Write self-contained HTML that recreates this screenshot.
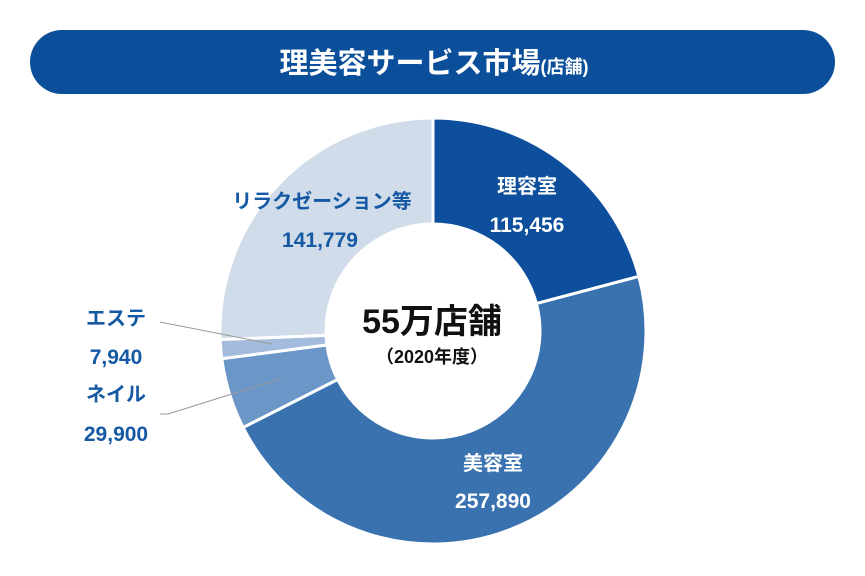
<!DOCTYPE html>
<html><head><meta charset="utf-8"><style>
body{margin:0;background:#fff;width:865px;height:571px;overflow:hidden;font-family:"Liberation Sans","Noto Sans CJK JP",sans-serif}
</style></head><body>
<svg width="865" height="571" viewBox="0 0 865 571" xmlns="http://www.w3.org/2000/svg">
<rect x="30" y="30" width="805" height="64" rx="32" fill="#0b4f9a"/>
<text x="434" y="73" text-anchor="middle" fill="#fff" font-family="Liberation Sans, Noto Sans CJK JP, sans-serif" font-weight="bold" font-size="29">理美容サービス市場<tspan font-size="18">(店舗)</tspan></text>
<g id="pie"></g>
<polyline points="160,322 272,344" fill="none" stroke="#999" stroke-width="1"/>
<polyline points="160,414 168,414 280,379" fill="none" stroke="#999" stroke-width="1"/>
<g font-family="Liberation Sans, Noto Sans CJK JP, sans-serif" font-weight="bold" font-size="20" text-anchor="middle">
<text x="527" y="193" fill="#fff">理容室</text>
<text x="527" y="232" font-size="21" fill="#fff">115,456</text>
<text x="493" y="470" fill="#fff">美容室</text>
<text x="493" y="508" font-size="21" fill="#fff">257,890</text>
<text x="322" y="208" fill="#1558a3">リラクゼーション等</text>
<text x="320" y="247" font-size="21" fill="#1558a3">141,779</text>
<text x="116" y="325" fill="#1558a3">エステ</text>
<text x="116" y="364" font-size="21" fill="#1558a3">7,940</text>
<text x="116" y="401" fill="#1558a3">ネイル</text>
<text x="116" y="441" font-size="21" fill="#1558a3">29,900</text>
</g>
<text x="432" y="333" text-anchor="middle" font-family="Liberation Sans, Noto Sans CJK JP, sans-serif" font-weight="bold" font-size="34" fill="#111">55万店舗</text>
<text x="432" y="363" text-anchor="middle" font-family="Liberation Sans, Noto Sans CJK JP, sans-serif" font-weight="bold" font-size="18" fill="#111">（2020年度）</text>
</svg>
<script>
var cx=433,cy=331,R=213,r=107;
var v=[115456,257890,29900,7940,141779],c=["#0d4f9c","#3a72b0","#6b96c8","#a3bcdd","#d0dcea"];
var t=v.reduce((a,b)=>a+b),a=0,g=document.getElementById('pie'),h='';
function p(rr,ang){var q=(ang-90)*Math.PI/180;return (cx+rr*Math.cos(q)).toFixed(2)+','+(cy+rr*Math.sin(q)).toFixed(2);}
for(var i=0;i<5;i++){var b=a+v[i]/t*360,l=(b-a)>180?1:0;
h+='<path d="M'+p(R,a)+' A'+R+','+R+' 0 '+l+' 1 '+p(R,b)+' L'+p(r,b)+' A'+r+','+r+' 0 '+l+' 0 '+p(r,a)+' Z" fill="'+c[i]+'" stroke="#fff" stroke-width="3"/>';a=b;}
g.innerHTML=h;
</script>
</body></html>
